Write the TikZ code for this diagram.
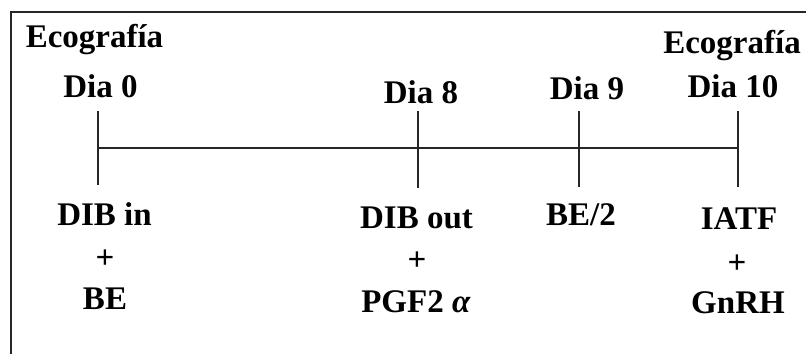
\documentclass[tikz,border=0pt]{standalone}
\usepackage{fontspec}
\setmainfont{Liberation Serif}
\begin{document}
\begin{tikzpicture}[x=1pt,y=-1pt,
  lbl/.style={anchor=base,inner sep=0pt,font=\fontsize{33}{39}\selectfont\bfseries},
  tl/.style={line width=1.4pt,black!85}]
\useasboundingbox (0,0) rectangle (806,354);
\fill[white] (0,0) rectangle (806,354);
% frame (top and left edges)
\coordinate (fa) at (11,354);
\coordinate (fb) at (11,12);
\coordinate (fc) at (806,12);
\draw[line width=1.4pt,black!85] (fa) -- (fb) -- (fc);
% ticks
\coordinate (t0a) at (98,111); \coordinate (t0b) at (98,185);
\coordinate (t8a) at (418,111); \coordinate (t8b) at (418,188);
\coordinate (t9a) at (579,111); \coordinate (t9b) at (579,187);
\coordinate (t10a) at (738,111); \coordinate (t10b) at (738,187);
\coordinate (h0) at (98,148); \coordinate (h10) at (738,148);
\draw[tl] (t0a) -- (t0b);
\draw[tl] (t8a) -- (t8b);
\draw[tl] (t9a) -- (t9b);
\draw[tl] (t10a) -- (t10b);
\draw[tl] (h0) -- (h10);
% top labels
\node[lbl] (eco1) at (94.5,47) {Ecografía};
\node[lbl] (d0) at (100.5,97) {Dia 0};
\node[lbl] (d8) at (421,103) {Dia 8};
\node[lbl] (d9) at (587,99) {Dia 9};
\node[lbl] (eco2) at (732,53) {Ecografía};
\node[lbl] (d10) at (733,97) {Dia 10};
% bottom labels
\node[lbl] (b0a) at (104.5,225) {DIB in};
\node[lbl] (b0b) at (105,268) {+};
\node[lbl] (b0c) at (105,309) {BE};
\node[lbl] (b8a) at (416.5,228) {DIB out};
\node[lbl] (b8b) at (417,270) {+};
\node[lbl] (b8c) at (416,312) {PGF2 \textit{α}};
\node[lbl] (b9a) at (581,225) {BE/2};
\node[lbl] (b10a) at (739,229) {IATF};
\node[lbl] (b10b) at (737,273) {+};
\node[lbl] (b10c) at (738,313) {GnRH};
\end{tikzpicture}
\end{document}
